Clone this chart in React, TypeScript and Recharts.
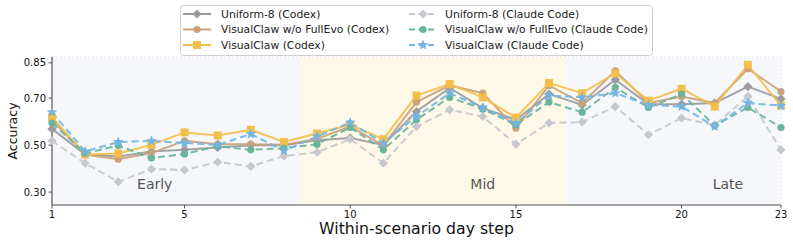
import React from 'react';
import {
  LineChart,
  Line,
  XAxis,
  YAxis,
  CartesianGrid,
  ReferenceArea,
  ReferenceDot,
} from 'recharts';

// Within-scenario day steps
const days = [1, 2, 3, 4, 5, 6, 7, 8, 9, 10, 11, 12, 13, 14, 15, 16, 17, 18, 19, 20, 21, 22, 23];

// Accuracy per day step, one array per run
const uniformCodex = [0.569, 0.46, 0.451, 0.473, 0.48, 0.49, 0.499, 0.499, 0.521, 0.53, 0.501, 0.643, 0.743, 0.657, 0.608, 0.717, 0.671, 0.778, 0.674, 0.674, 0.679, 0.749, 0.697];
const noFullEvoCodex = [0.608, 0.46, 0.44, 0.466, 0.518, 0.504, 0.504, 0.501, 0.527, 0.579, 0.499, 0.683, 0.754, 0.721, 0.572, 0.754, 0.679, 0.816, 0.679, 0.707, 0.679, 0.825, 0.728];
const visualClawCodex = [0.619, 0.46, 0.464, 0.501, 0.554, 0.541, 0.565, 0.513, 0.549, 0.586, 0.525, 0.711, 0.76, 0.703, 0.617, 0.764, 0.721, 0.806, 0.689, 0.74, 0.664, 0.842, 0.668];
const uniformClaude = [0.518, 0.423, 0.344, 0.398, 0.394, 0.428, 0.409, 0.454, 0.47, 0.525, 0.423, 0.579, 0.65, 0.622, 0.504, 0.594, 0.598, 0.664, 0.544, 0.615, 0.586, 0.707, 0.48];
const noFullEvoClaude = [0.594, 0.465, 0.498, 0.445, 0.462, 0.495, 0.48, 0.487, 0.504, 0.575, 0.48, 0.608, 0.703, 0.654, 0.586, 0.683, 0.64, 0.745, 0.66, 0.717, 0.583, 0.66, 0.575];
const visualClawClaude = [0.64, 0.473, 0.513, 0.518, 0.509, 0.501, 0.547, 0.476, 0.537, 0.596, 0.509, 0.622, 0.721, 0.66, 0.594, 0.711, 0.703, 0.721, 0.671, 0.664, 0.579, 0.679, 0.668];

// Axis ticks
const xTicks = [1, 5, 10, 15, 20, 23];
const yTicks = [0.3, 0.5, 0.7, 0.85];

// Scenario phases and where their names sit
const phaseNames = ['Early', 'Mid', 'Late'];
const phaseStarts = [1, 8.5, 16.5];
const phaseEnds = [8.5, 16.5, 23];
const phaseLabelDays = [4.1, 14, 21.4];
const phaseLabelY = 0.335;
const phaseFills = ['#f5f7fa', '#fdf8e8', '#f5f7fa'];

type Marker = 'diamond' | 'circle' | 'square' | 'star';

const series = [
  { key: 'uniformCodex', name: 'Uniform-8 (Codex)', values: uniformCodex, color: '#9b9b9f', dashed: false, marker: 'diamond' as Marker },
  { key: 'noFullEvoCodex', name: 'VisualClaw w/o FullEvo (Codex)', values: noFullEvoCodex, color: '#c9a27c', dashed: false, marker: 'circle' as Marker },
  { key: 'visualClawCodex', name: 'VisualClaw (Codex)', values: visualClawCodex, color: '#f3bf4c', dashed: false, marker: 'square' as Marker },
  { key: 'uniformClaude', name: 'Uniform-8 (Claude Code)', values: uniformClaude, color: '#c6c8cd', dashed: true, marker: 'diamond' as Marker },
  { key: 'noFullEvoClaude', name: 'VisualClaw w/o FullEvo (Claude Code)', values: noFullEvoClaude, color: '#68b59b', dashed: true, marker: 'circle' as Marker },
  { key: 'visualClawClaude', name: 'VisualClaw (Claude Code)', values: visualClawClaude, color: '#72b5e3', dashed: true, marker: 'star' as Marker },
];

const rows = days.map((d, i) => {
  const row: Record<string, number> = { day: d };
  series.forEach((s) => {
    row[s.key] = s.values[i];
  });
  return row;
});

const FONT = "'DejaVu Sans', sans-serif";

function markerShape(kind: Marker, cx: number, cy: number, color: string, key?: string) {
  if (kind === 'diamond') {
    const r = 4.6;
    return (
      <polygon key={key} points={`${cx},${cy - r} ${cx + r},${cy} ${cx},${cy + r} ${cx - r},${cy}`} fill={color} />
    );
  }
  if (kind === 'square') {
    const h = 4;
    return <rect key={key} x={cx - h} y={cy - h} width={2 * h} height={2 * h} fill={color} />;
  }
  if (kind === 'star') {
    const ro = 5.6;
    const ri = 2.4;
    const pts: string[] = [];
    for (let k = 0; k < 10; k++) {
      const r = k % 2 === 0 ? ro : ri;
      const a = -Math.PI / 2 + (k * Math.PI) / 5;
      pts.push(`${cx + r * Math.cos(a)},${cy + r * Math.sin(a)}`);
    }
    return <polygon key={key} points={pts.join(' ')} fill={color} />;
  }
  return <circle key={key} cx={cx} cy={cy} r={3.6} fill={color} />;
}

function LegendBox() {
  const col1 = series.slice(0, 3);
  const col2 = series.slice(3);
  const entry = (s: (typeof series)[number], i: number, left: number, textGap: number) => {
    const cy = 9 + i * 15.5;
    return (
      <g key={s.key}>
        <line
          x1={left}
          x2={left + 28}
          y1={cy}
          y2={cy}
          stroke={s.color}
          strokeWidth={2}
          strokeDasharray={s.dashed ? '6 3.5' : undefined}
        />
        {markerShape(s.marker, left + 14, cy, s.color)}
        <text x={left + textGap} y={cy} dy="0.36em" style={{ fontSize: 10.8, fontFamily: FONT }} fill="#222">
          {s.name}
        </text>
      </g>
    );
  };
  return (
    <svg
      width={473}
      height={51}
      style={{ position: 'absolute', left: 180, top: 5, overflow: 'visible' }}
    >
      <rect x={0.5} y={0.5} width={472} height={50} rx={3} fill="#fff" fillOpacity={0.9} stroke="#d0d0d0" />
      {col1.map((s, i) => entry(s, i, 3, 38))}
      {col2.map((s, i) => entry(s, i, 229, 36))}
    </svg>
  );
}

export default function App() {
  return (
    <div style={{ position: 'fixed', left: 0, top: 0, width: 793, height: 244, background: '#fff', fontFamily: FONT }}>
      <LineChart
        width={793}
        height={244}
        data={rows}
        margin={{ top: 57, right: 12, bottom: 0, left: 0 }}
        style={{ fontFamily: FONT }}
      >
        {phaseNames.map((p, i) => (
          <ReferenceArea
            key={p}
            x1={phaseStarts[i]}
            x2={phaseEnds[i]}
            y1={0.245}
            y2={0.875}
            fill={phaseFills[i]}
            fillOpacity={1}
            stroke="none"
            ifOverflow="hidden"
          />
        ))}
        <CartesianGrid stroke="#cfcfcf" strokeDasharray="2 2" strokeWidth={0.8} horizontal vertical />
        <XAxis
          dataKey="day"
          type="number"
          domain={[1, 23]}
          ticks={xTicks}
          interval={0}
          height={39}
          tickSize={3.5}
          tickMargin={2.2}
          tick={{ fontSize: 10, fill: '#111', fontFamily: FONT }}
          axisLine={{ stroke: '#555', strokeWidth: 1.2 }}
          tickLine={{ stroke: '#555' }}
          label={{
            value: 'Within-scenario day step',
            position: 'insideBottom',
            offset: 10,
            style: { fontSize: 15.7, fill: '#111', fontFamily: FONT },
          }}
        />
        <YAxis
          type="number"
          domain={[0.245, 0.875]}
          ticks={yTicks}
          interval={0}
          width={52}
          tickSize={3.5}
          tickMargin={2.5}
          tickFormatter={(v: number) => v.toFixed(2)}
          tick={{ fontSize: 10, fill: '#111', fontFamily: FONT }}
          axisLine={{ stroke: '#555', strokeWidth: 1.2 }}
          tickLine={{ stroke: '#555' }}
          label={{
            value: 'Accuracy',
            angle: -90,
            position: 'insideLeft',
            offset: 13,
            style: { fontSize: 12.5, fill: '#111', fontFamily: FONT, textAnchor: 'middle' },
          }}
        />
        {phaseNames.map((p, i) => (
          <ReferenceDot
            key={`lbl-${p}`}
            x={phaseLabelDays[i]}
            y={phaseLabelY}
            r={0}
            shape={(props: any) => (
              <text
                x={props.cx}
                y={props.cy}
                dy="0.36em"
                textAnchor="middle"
                style={{ fontSize: 14, fontFamily: FONT }}
                fill="#555"
              >
                {p}
              </text>
            )}
          />
        ))}
        {series.map((s) => (
          <Line
            key={s.key}
            dataKey={s.key}
            name={s.name}
            type="linear"
            stroke={s.color}
            strokeWidth={2}
            strokeOpacity={0.92}
            strokeDasharray={s.dashed ? '7 4' : undefined}
            isAnimationActive={false}
            dot={(props: any) => markerShape(s.marker, props.cx, props.cy, s.color, `${s.key}-${props.index}`)}
            activeDot={false}
          />
        ))}
      </LineChart>
      <LegendBox />
    </div>
  );
}
